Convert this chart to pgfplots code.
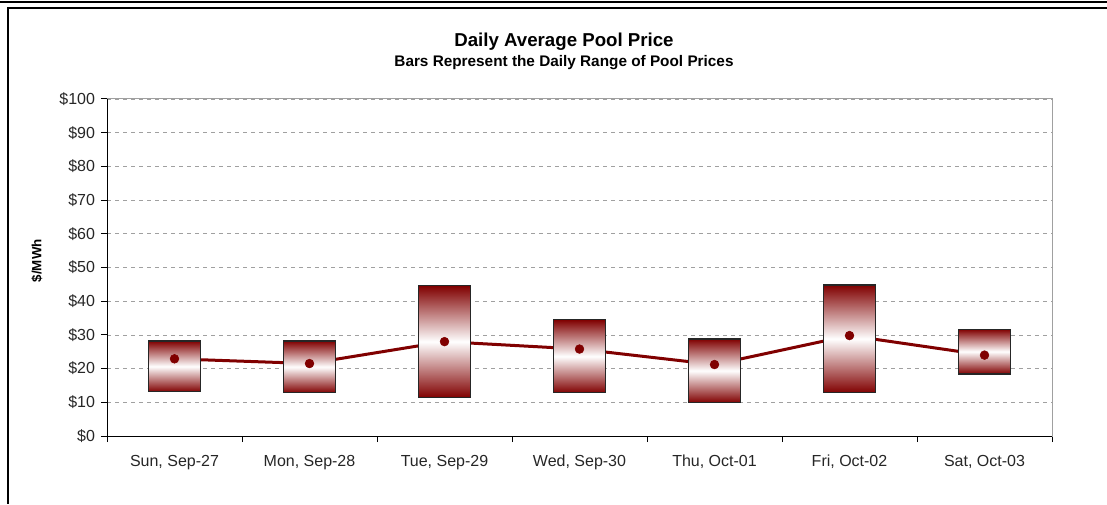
\documentclass[border=0pt]{standalone}
\usepackage{pgfplots}
\pgfplotsset{compat=1.18}
\usepackage{pgfplotstable}
\usepackage{fontspec}
\setmainfont{Liberation Sans}
\definecolor{darkred}{HTML}{800000}
\definecolor{gridgray}{HTML}{A0A0A0}
\pgfplotstableread{
x low high avg
1 13.1 28.2 22.9
2 12.8 28.2 21.5
3 11.4 44.6 28.0
4 12.8 34.5 25.8
5 9.9 28.8 21.2
6 12.8 44.8 29.8
7 18.4 31.7 24.0
}\data
\begin{document}
\begin{tikzpicture}
\useasboundingbox (0,0) rectangle (830.25pt,378pt);
\draw[black, line width=1.5pt] (0,376.8pt) -- (830.25pt,376.8pt);
\draw[black, line width=0.9pt] (830.25pt,372pt) -- (6pt,372pt) -- (6pt,0);
\node[font=\fontsize{14}{16}\selectfont\bfseries] at (423pt,347pt) {Daily Average Pool Price};
\node[font=\fontsize{11.5}{13}\selectfont\bfseries] at (423pt,331pt) {Bars Represent the Daily Range of Pool Prices};
\node[font=\fontsize{10}{12}\selectfont\bfseries, rotate=90] at (27.75pt,182.5pt) {\$/MWh};
\begin{axis}[
  at={(80.25pt,51pt)}, anchor=south west,
  scale only axis, width=708.75pt, height=252.75pt,
  xmin=0.5, xmax=7.5, ymin=0, ymax=100,
  axis line style={gridgray, line width=0.75pt},
  tick style={black, line width=0.75pt},
  tick align=outside, xtick pos=bottom, ytick pos=left,
  major tick length=4.5pt,
  ytick={0,10,...,100},
  yticklabels={\$0,\$10,\$20,\$30,\$40,\$50,\$60,\$70,\$80,\$90,\$100},
  xtick={0.5,1.5,...,7.5}, xticklabels={},
  extra x ticks={1,2,...,7},
  extra x tick labels={{Sun, Sep-27},{Mon, Sep-28},{Tue, Sep-29},{Wed, Sep-30},{Thu, Oct-01},{Fri, Oct-02},{Sat, Oct-03}},
  extra x tick style={major tick length=0pt, xticklabel style={yshift=-11pt}},
  ymajorgrids,
  major grid style={gridgray, line width=0.6pt, dash pattern=on 3pt off 3pt},
  tick label style={font=\fontsize{12}{14}\selectfont, text=black!85},
  yticklabel style={xshift=-1pt},
  clip=false,
  rangebar/.style={draw=black!85, line width=0.9pt, top color=darkred, bottom color=darkred, middle color=white},
]
\addplot[darkred, line width=2.25pt] table[x=x, y=avg] {\data};
\pgfplotsinvokeforeach{0,...,6}{
  \pgfplotstablegetelem{#1}{x}\of\data
  \pgfmathsetmacro\xl{\pgfplotsretval-0.19}
  \pgfmathsetmacro\xr{\pgfplotsretval+0.19}
  \pgfplotstablegetelem{#1}{low}\of\data \edef\lo{\pgfplotsretval}
  \pgfplotstablegetelem{#1}{high}\of\data \edef\hi{\pgfplotsretval}
  \edef\cmd{\noexpand\addplot[rangebar] coordinates {(\xl,\lo) (\xr,\lo) (\xr,\hi) (\xl,\hi)} -- cycle;}
  \cmd
}
\addplot[only marks, mark=*, mark size=3.3pt, color=darkred] table[x=x, y=avg] {\data};
\draw[black, line width=0.75pt] (rel axis cs:0,1) -- (rel axis cs:0,0) -- (rel axis cs:1,0);
\end{axis}
\end{tikzpicture}
\end{document}
